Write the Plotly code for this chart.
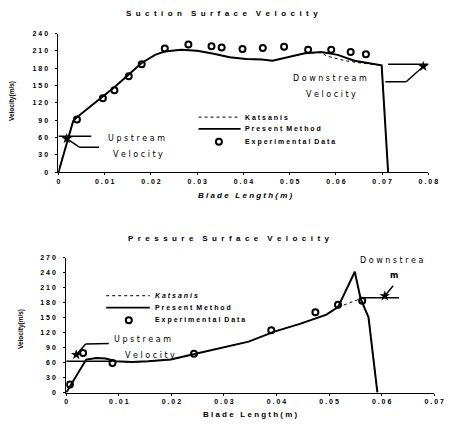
import plotly.graph_objects as go

# ---------------- Suction surface data ----------------
suc_present_x = [0.0, 0.0032, 0.004, 0.0089, 0.0124, 0.0152, 0.018, 0.0209, 0.023, 0.0265, 0.030,
                 0.0336, 0.037, 0.0406, 0.044, 0.0463, 0.0498, 0.0533, 0.0569, 0.0604, 0.064,
                 0.0667, 0.0699, 0.0713]
suc_present_y = [0, 89, 95, 126, 149, 169, 189, 203, 209, 212, 210,
                 205, 199, 196, 195, 193, 199, 206, 208, 203, 193,
                 189, 185, 0]
suc_kats_x = [0.0, 0.0032, 0.004, 0.0089, 0.0124, 0.0152, 0.018, 0.0209, 0.023, 0.0265, 0.030,
              0.0336, 0.037, 0.0406, 0.044, 0.0463, 0.0498, 0.0533, 0.0569, 0.058, 0.062, 0.0653,
              0.0699, 0.0713]
suc_kats_y = [0, 89, 95, 126, 149, 169, 189, 203, 209, 212, 210,
              205, 199, 196, 195, 193, 199, 206, 207, 201, 193, 189,
              185, 0]
suc_exp_x = [0.004, 0.0096, 0.0121, 0.0152, 0.018, 0.023, 0.0281, 0.0331, 0.0353, 0.0398,
             0.0442, 0.0488, 0.054, 0.059, 0.0632, 0.0665]
suc_exp_y = [91, 128, 142, 166, 187, 214, 221, 218, 216, 213,
             215, 217, 212, 212, 208, 204]

# ---------------- Pressure surface data ----------------
pre_present_x = [0.0, 0.0038, 0.0057, 0.0075, 0.0094, 0.0125, 0.0156, 0.0199, 0.0248, 0.0298,
                 0.0347, 0.0396, 0.0446, 0.0495, 0.0517, 0.0549, 0.056, 0.0575, 0.0592]
pre_present_y = [0, 66, 69, 68, 62.5, 61, 62.5, 66, 78, 90,
                 102, 122, 138, 156, 171, 242, 188, 151, 0]
pre_kats_x = [0.0, 0.0038, 0.0057, 0.0075, 0.0094, 0.0125, 0.0156, 0.0199, 0.0248, 0.0298,
              0.0347, 0.0396, 0.0446, 0.0495, 0.0517, 0.054, 0.056, 0.0575, 0.0592]
pre_kats_y = [0, 66, 69, 68, 62.5, 61, 62.5, 66, 78, 90,
              102, 122, 138, 156, 171, 180, 188, 151, 0]
pre_exp_x = [0.0007, 0.0032, 0.0088, 0.0243, 0.039, 0.0474, 0.0517, 0.0563]
pre_exp_y = [16, 79, 59, 77.6, 125, 161, 176, 184]

suc_yticks = [0, 30, 60, 90, 120, 150, 180, 210, 240]
pre_yticks = [0, 30, 60, 90, 120, 150, 180, 210, 240, 270]
suc_xticks = [0, 0.01, 0.02, 0.03, 0.04, 0.05, 0.06, 0.07, 0.08]
pre_xticks = [0, 0.01, 0.02, 0.03, 0.04, 0.05, 0.06, 0.07]

NB = "\u00a0"


def spaced(s, gap=1, wgap=3):
    words = s.split(" ")
    return (NB * wgap).join((NB * gap).join(list(w)) for w in words)


def xlab(v):
    return "<b>0</b>" if v == 0 else "<b>" + spaced(f"{v:.2f}") + "</b>"


TICKFONT = dict(family="Liberation Sans", size=7, color="black")
LINE = dict(color="black", width=2)
OPEN = dict(symbol="circle-open", size=6, color="black", line=dict(width=2))

fig = go.Figure()

fig.add_trace(go.Scatter(x=suc_kats_x, y=suc_kats_y, mode="lines",
                         line=dict(color="black", width=1, dash="dot"), xaxis="x", yaxis="y"))
fig.add_trace(go.Scatter(x=suc_present_x, y=suc_present_y, mode="lines", line=LINE,
                         xaxis="x", yaxis="y"))
fig.add_trace(go.Scatter(x=suc_exp_x, y=suc_exp_y, mode="markers", marker=OPEN,
                         xaxis="x", yaxis="y"))
fig.add_trace(go.Scatter(x=pre_kats_x, y=pre_kats_y, mode="lines",
                         line=dict(color="black", width=1, dash="dot"), xaxis="x2", yaxis="y2"))
fig.add_trace(go.Scatter(x=pre_present_x, y=pre_present_y, mode="lines", line=LINE,
                         xaxis="x2", yaxis="y2"))
fig.add_trace(go.Scatter(x=pre_exp_x, y=pre_exp_y, mode="markers", marker=OPEN,
                         xaxis="x2", yaxis="y2"))

# legend markers (manual legends)
fig.add_trace(go.Scatter(x=[0.0347], y=[52.8], mode="markers", marker=OPEN, xaxis="x", yaxis="y"))
fig.add_trace(go.Scatter(x=[0.0119], y=[145], mode="markers", marker=OPEN, xaxis="x2", yaxis="y2"))

axis_common = dict(showgrid=False, zeroline=False, showline=True, linecolor="black", linewidth=1,
                   ticks="outside", ticklen=2, tickcolor="black", tickfont=TICKFONT)

fig.update_layout(
    width=451, height=426, showlegend=False,
    margin=dict(l=0, r=0, t=0, b=0),
    paper_bgcolor="white", plot_bgcolor="white",
    xaxis=dict(domain=[58/451, 438/451], range=[0, 0.08], anchor="y",
               tickvals=suc_xticks, ticktext=[xlab(v) for v in suc_xticks], **axis_common),
    yaxis=dict(domain=[1-171/426, 1-30/426], range=[0, 240], anchor="x", ticklabelstandoff=6,
               tickvals=suc_yticks, ticktext=["<b>" + spaced(str(v)) + "</b>" for v in suc_yticks],
               **axis_common),
    xaxis2=dict(domain=[66/451, 444/451], range=[0, 0.07], anchor="y2",
                tickvals=pre_xticks, ticktext=[xlab(v) for v in pre_xticks], **axis_common),
    yaxis2=dict(domain=[1-395/426, 1-258/426], range=[0, 270], anchor="x2", ticklabelstandoff=6,
                tickvals=pre_yticks, ticktext=["<b>" + spaced(str(v)) + "</b>" for v in pre_yticks],
                **axis_common),
)

shapes = []


def seg(x0, y0, x1, y1, ax="", width=1.5, dash=None):
    d = dict(type="line", x0=x0, y0=y0, x1=x1, y1=y1, xref="x" + ax, yref="y" + ax,
             line=dict(color="black", width=width))
    if dash:
        d["line"]["dash"] = dash
    shapes.append(d)


# top annotation lines
seg(0, 62, 0.0071, 62)
seg(0.0018, 58, 0.0046, 43)
seg(0.0046, 43, 0.0088, 43)
seg(0.0713, 187, 0.0809, 187)
seg(0.0707, 156.6, 0.0752, 156.6)
seg(0.0752, 156.6, 0.0789, 183)
# top legend lines
seg(0.0303, 95.3, 0.0394, 95.3, width=1, dash="dot")
seg(0.0303, 74.9, 0.0394, 74.9, width=1.8)
# bottom annotation lines
seg(0, 62.5, 0.0088, 62.5, "2")
seg(0.0037, 97.4, 0.0019, 75.7, "2")
seg(0.0037, 97.4, 0.0081, 98, "2")
seg(0.0563, 190, 0.0633, 190, "2")
seg(0.0622, 214, 0.0606, 193.6, "2")
# bottom legend lines
seg(0.0076, 194, 0.0159, 194, "2", width=1, dash="dot")
seg(0.0076, 170, 0.0159, 170, "2", width=1.8)
fig.update_layout(shapes=shapes)

# star-like arrowheads
fig.add_trace(go.Scatter(x=[0.0018, 0.0789], y=[58, 183], mode="markers",
                         marker=dict(symbol="star", size=8, color="black"), xaxis="x", yaxis="y"))
fig.add_trace(go.Scatter(x=[0.0019, 0.0606], y=[75.7, 193.6], mode="markers",
                         marker=dict(symbol="star", size=8, color="black"), xaxis="x2", yaxis="y2"))

ann = []
SERIF = dict(family="DejaVu Sans", size=8, color="black")
LEGF = dict(family="Liberation Sans", size=7, color="black")


def txt(x, y, s, ax="", font=SERIF, xanchor="center"):
    ann.append(dict(x=x, y=y, xref="x" + ax, yref="y" + ax, text=s, showarrow=False,
                    font=font, xanchor=xanchor, yanchor="middle"))


txt(0.0168, 58, spaced("Upstream"))
txt(0.0173, 30.6, spaced("Velocity"))
txt(0.0587, 161.7, spaced("Downstream"))
txt(0.0589, 134.5, spaced("Velocity"))
txt(0.0400, 95.3, "<b>" + spaced("Katsanis") + "</b>", font=LEGF, xanchor="left")
txt(0.0400, 74.9, "<b>" + spaced("Present Method", 1, 2) + "</b>", font=LEGF, xanchor="left")
txt(0.0400, 52.8, "<b>" + spaced("Experimental Data", 1, 2) + "</b>", font=LEGF, xanchor="left")

txt(0.0146, 106.7, spaced("Upstream"), "2")
txt(0.0159, 75, spaced("Velocity"), "2")
txt(0.0619, 265, spaced("Downstrea"), "2")
txt(0.0624, 233.7, "<b>m</b>", "2")
txt(0.0165, 194, "<b><i>" + spaced("Katsanis") + "</i></b>", "2", font=LEGF, xanchor="left")
txt(0.0165, 170, "<b>" + spaced("Present Method", 1, 2) + "</b>", "2", font=LEGF, xanchor="left")
txt(0.0165, 145, "<b>" + spaced("Experimental Data", 1, 2) + "</b>", "2", font=LEGF, xanchor="left")

TITLEF = dict(family="Liberation Sans", size=8, color="black")
AXF = dict(family="Liberation Sans", size=8, color="black")


def ptxt(px, py, s, font, angle=0):
    ann.append(dict(x=px/451, y=1-py/426, xref="paper", yref="paper", text=s, showarrow=False,
                    font=font, textangle=angle, xanchor="center", yanchor="middle"))


ptxt(226, 10, "<b>" + spaced("Suction Surface Velocity", 2, 4) + "</b>", TITLEF)
ptxt(233, 238, "<b>" + spaced("Pressure Surface Velocity", 2, 4) + "</b>", TITLEF)
ptxt(250, 195, "<b><i>" + spaced("Blade Length(m)", 1, 3) + "</i></b>", AXF)
ptxt(255, 417, "<b>" + spaced("Blade Length(m)", 1, 3) + "</b>", AXF)
ptxt(11, 99, "<b>Velocity(m/s)</b>", dict(family="Liberation Sans", size=6.5, color="black"), -90)
ptxt(19, 330, "<b>Velocity(m/s)</b>", dict(family="Liberation Sans", size=6.5, color="black"), -90)

fig.update_layout(annotations=ann)
fig.write_html("out.html", config={"displayModeBar": False},
               post_script="document.body.style.margin='0';")
